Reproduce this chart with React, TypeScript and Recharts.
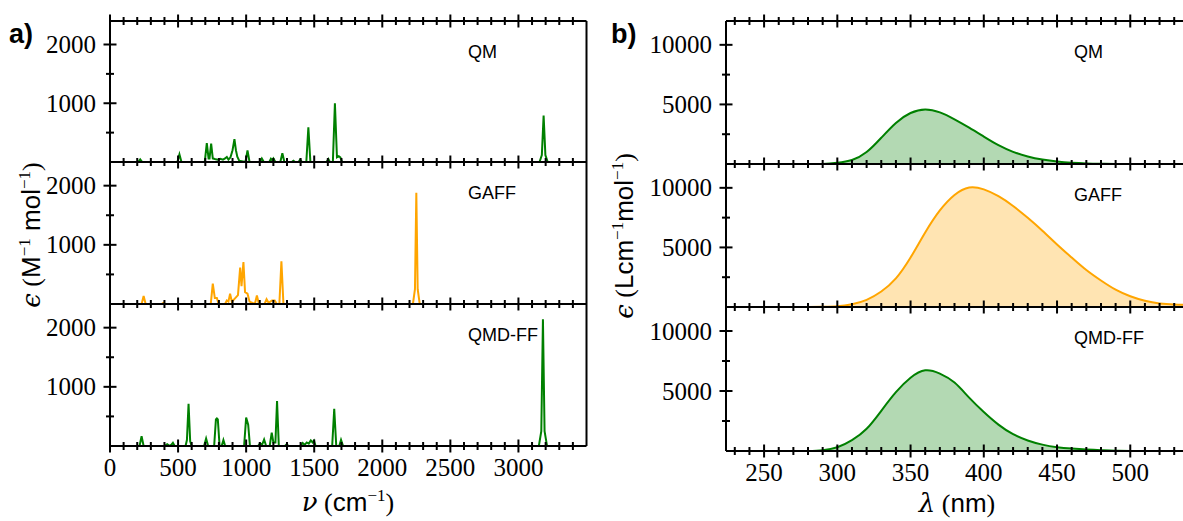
import { Area, AreaChart, Line, LineChart, ReferenceLine, XAxis, YAxis } from 'recharts';

const SERIF = '"Liberation Serif", "DejaVu Serif", serif';
const SANS = '"Liberation Sans", "DejaVu Sans", sans-serif';
const MATH = '"DejaVu Serif", serif';

const green = '#008000';
const orange = '#ffa500';
const greenFill = '#b3d9b3';
const orangeFill = '#ffe4b2';

// IR spectra, [wavenumber, epsilon]
const irQm = [
  [150, 0], [207, 0], [222, 45], [237, 0],
  [495, 0], [510, 130], [525, 0],
  [696, 0], [711, 320], [724, 60], [731, 60], [743, 315], [755, 60], [770, 50], [790, 40], [810, 55], [830, 40],
  [845, 60], [858, 85], [870, 40], [885, 80], [900, 200], [914, 390], [925, 200], [935, 90], [950, 20],
  [995, 0], [1010, 195], [1025, 0],
  [1100, 0], [1115, 60], [1130, 0], [1170, 0], [1182, 55], [1192, 30], [1200, 60], [1215, 0],
  [1251, 0], [1266, 150], [1281, 0],
  [1335, 0], [1347, 20], [1360, 0], [1385, 0], [1396, 40], [1410, 0],
  [1442, 0], [1457, 590], [1472, 0],
  [1590, 0], [1604, 50], [1615, 0], [1637, 0], [1652, 1000], [1667, 80], [1680, 100], [1692, 80], [1705, 0],
  [3155, 0], [3172, 120], [3185, 790], [3198, 120], [3215, 0], [3400, 0],
];

const irGaff = [
  [150, 0], [232, 0], [247, 135], [262, 0], [380, 0], [393, 20], [405, 0],
  [740, 0], [755, 345], [770, 100], [785, 100], [798, 0],
  [845, 0], [858, 60], [870, 40], [882, 175], [895, 40], [920, 100], [940, 150], [956, 615], [966, 300],
  [980, 710], [992, 200], [1010, 175], [1025, 40],
  [1064, 0], [1079, 145], [1094, 0], [1135, 0], [1150, 80], [1165, 20], [1190, 60], [1210, 60], [1225, 0],
  [1244, 0], [1259, 720], [1274, 0],
  [2225, 0], [2240, 250], [2250, 1880], [2260, 250], [2275, 0], [2450, 0],
];

const irQmdff = [
  [150, 0], [217, 0], [232, 165], [247, 0],
  [400, 0], [420, 30], [440, 0], [450, 20], [462, 55], [475, 0],
  [555, 0], [565, 100], [577, 715], [589, 80], [600, 0],
  [691, 0], [706, 125], [721, 0],
  [765, 0], [778, 450], [785, 465], [792, 450], [805, 0], [820, 0], [833, 100], [846, 0],
  [985, 0], [1000, 480], [1015, 360], [1028, 0],
  [1087, 0], [1102, 45], [1117, 20], [1132, 110], [1147, 0],
  [1173, 0], [1188, 225], [1200, 60], [1215, 60], [1227, 760], [1240, 0],
  [1285, 0], [1298, 30], [1310, 0],
  [1400, 0], [1415, 50], [1430, 20], [1445, 60], [1460, 40], [1475, 95], [1488, 60], [1498, 90], [1510, 0],
  [1632, 0], [1647, 630], [1662, 0], [1684, 0], [1697, 105], [1712, 0],
  [3150, 0], [3168, 250], [3180, 2140], [3192, 250], [3210, 0], [3400, 0],
];

// UV-vis spectra, wavelength (nm) and epsilon
const uvQmX = [224, 240, 260, 280, 290, 300, 310, 320, 330, 340, 350, 360, 370, 380, 390, 400, 410, 420, 430, 440, 450, 460, 470, 480, 490, 500, 520, 536];
const uvQmY = [0, 0, 0, 0, 10, 100, 330, 1000, 2200, 3450, 4280, 4580, 4330, 3750, 3050, 2300, 1580, 1020, 630, 370, 200, 100, 45, 20, 5, 0, 0, 0];

const uvGaffX = [224, 240, 260, 280, 290, 300, 310, 320, 330, 340, 350, 360, 370, 380, 390, 400, 410, 420, 430, 440, 450, 460, 470, 480, 490, 500, 510, 520, 530, 536];
const uvGaffY = [0, 0, 0, 0, 15, 60, 230, 600, 1300, 2400, 4150, 6250, 8100, 9400, 10030, 9870, 9300, 8480, 7480, 6400, 5250, 4150, 3100, 2220, 1450, 900, 520, 300, 210, 190];

const uvQmdffX = [224, 240, 260, 280, 290, 300, 310, 320, 330, 340, 350, 360, 370, 380, 390, 400, 410, 420, 430, 440, 450, 460, 470, 480, 490, 500, 510, 520, 536];
const uvQmdffY = [0, 0, 0, 10, 70, 310, 900, 1850, 3350, 4900, 6100, 6720, 6450, 5700, 4450, 3250, 2200, 1400, 880, 530, 320, 200, 115, 60, 30, 10, 0, 0, 0];

// ticks
const irXTicks = [0, 100, 200, 300, 400, 500, 600, 700, 800, 900, 1000, 1100, 1200, 1300, 1400, 1500, 1600, 1700,
  1800, 1900, 2000, 2100, 2200, 2300, 2400, 2500, 2600, 2700, 2800, 2900, 3000, 3100, 3200, 3300, 3400];
const irXMajor = [0, 500, 1000, 1500, 2000, 2500, 3000];
const irYTicks = [500, 1000, 1500, 2000];
const irYMajor = [1000, 2000];

const uvXTicks = [230, 240, 250, 260, 270, 280, 290, 300, 310, 320, 330, 340, 350, 360, 370, 380, 390, 400, 410,
  420, 430, 440, 450, 460, 470, 480, 490, 500, 510, 520, 530];
const uvXMajor = [250, 300, 350, 400, 450, 500];
const uvYTicks = [2500, 5000, 7500, 10000];
const uvYMajor = [5000, 10000];

const pairs = (pts: number[][]) => pts.map(([x, y]) => ({ x, y }));
const zipRows = (xs: number[], ys: number[]) => xs.map((x, i) => ({ x, y: ys[i] }));

// ticks cross the spine (in and out); tickSize/tickMargin are 0 so p.x / p.y sit on the spine
const xTick = (major: number[], labels: boolean) => (p: any) => {
  const isMajor = major.includes(p.payload.value);
  const len = isMajor ? 6.5 : 4;
  return (
    <g>
      <line x1={p.x} x2={p.x} y1={p.y - len} y2={p.y + len} stroke="#000" strokeWidth={2} />
      {labels && isMajor ? (
        <text x={p.x} y={p.y + 30} textAnchor="middle" fontFamily={SERIF} fontSize={25} fill="#000">
          {p.payload.value}
        </text>
      ) : null}
    </g>
  );
};

const yTick = (major: number[]) => (p: any) => {
  const isMajor = major.includes(p.payload.value);
  const len = isMajor ? 6.5 : 4;
  return (
    <g>
      <line x1={p.x - len} x2={p.x + len} y1={p.y} y2={p.y} stroke="#000" strokeWidth={2} />
      {isMajor ? (
        <text x={p.x - 14} y={p.y + 8.5} textAnchor="end" fontFamily={SERIF} fontSize={25} fill="#000">
          {p.payload.value}
        </text>
      ) : null}
    </g>
  );
};

const spine = { stroke: '#000', strokeWidth: 2 };

interface SubProps {
  rows: { x: number; y: number }[];
  color: string;
  fill?: string;
  top: number;
  height: number;
  first?: boolean;
  last?: boolean;
}

function IrPlot({ rows, color, top, height, first, last }: SubProps) {
  const below = last ? 521 - (top + height) : 20;
  return (
    <div style={{ position: 'absolute', left: 0, top: top - 20 }}>
      <LineChart width={600} height={20 + height + below} data={rows}
        margin={{ top: first ? 0 : 20, right: 13.5, bottom: 0, left: 0 }}>
        <XAxis dataKey="x" type="number" domain={[0, 3500]} ticks={irXTicks} interval={0} allowDataOverflow
          height={below} tickSize={0} tickMargin={0} tickLine={false} axisLine={spine}
          tick={xTick(irXMajor, !!last)} />
        {first ? (
          <XAxis xAxisId="top" dataKey="x" orientation="top" type="number" domain={[0, 3500]} ticks={irXTicks}
            interval={0} allowDataOverflow height={20} tickSize={0} tickMargin={0} tickLine={false}
            axisLine={spine} tick={xTick(irXMajor, false)} />
        ) : null}
        <YAxis type="number" domain={[0, 2400]} ticks={irYTicks} interval={0} allowDataOverflow width={110}
          tickSize={0} tickMargin={0} tickLine={false} axisLine={spine} tick={yTick(irYMajor)} />
        <ReferenceLine x={3500} stroke="#000" strokeWidth={2} />
        {first ? (
          <Line xAxisId="top" dataKey="y" stroke="none" dot={false} activeDot={false} isAnimationActive={false} />
        ) : null}
        <Line dataKey="y" type="linear" stroke={color} strokeWidth={2} dot={false} isAnimationActive={false} />
      </LineChart>
    </div>
  );
}

function UvPlot({ rows, color, fill, top, height, first, last }: SubProps) {
  const below = last ? 521 - (top + height) : 20;
  return (
    <div style={{ position: 'absolute', left: 600, top: top - 20 }}>
      <AreaChart width={583} height={20 + height + below} data={rows}
        margin={{ top: first ? 0 : 20, right: 0, bottom: 0, left: 0 }}>
        <XAxis dataKey="x" type="number" domain={[224, 536]} ticks={uvXTicks} interval={0} allowDataOverflow
          height={below} tickSize={0} tickMargin={0} tickLine={false} axisLine={spine}
          tick={xTick(uvXMajor, !!last)} />
        {first ? (
          <XAxis xAxisId="top" dataKey="x" orientation="top" type="number" domain={[224, 536]} ticks={uvXTicks}
            interval={0} allowDataOverflow height={20} tickSize={0} tickMargin={0} tickLine={false}
            axisLine={spine} tick={xTick(uvXMajor, false)} />
        ) : null}
        <YAxis type="number" domain={[0, 12000]} ticks={uvYTicks} interval={0} allowDataOverflow width={126}
          tickSize={0} tickMargin={0} tickLine={false} axisLine={spine} tick={yTick(uvYMajor)} />
        {first ? (
          <Area xAxisId="top" dataKey="y" stroke="none" fill="none" dot={false} activeDot={false}
            isAnimationActive={false} />
        ) : null}
        <Area dataKey="y" type="natural" stroke={color} strokeWidth={2} fill={fill} fillOpacity={1}
          isAnimationActive={false} />
      </AreaChart>
    </div>
  );
}

const sup = { fontFamily: SERIF, fontSize: 17 };

export default function App() {
  return (
    <div style={{ position: 'absolute', left: 0, top: 0, width: 1183, height: 521, background: '#fff', overflow: 'hidden' }}>
      <IrPlot rows={pairs(irQm)} color={green} top={21} height={141} first />
      <IrPlot rows={pairs(irGaff)} color={orange} top={162} height={142} />
      <IrPlot rows={pairs(irQmdff)} color={green} top={304} height={142} last />

      <UvPlot rows={zipRows(uvQmX, uvQmY)} color={green} fill={greenFill} top={21} height={143} first />
      <UvPlot rows={zipRows(uvGaffX, uvGaffY)} color={orange} fill={orangeFill} top={164} height={143} />
      <UvPlot rows={zipRows(uvQmdffX, uvQmdffY)} color={green} fill={greenFill} top={307} height={144} last />

      <svg width={1183} height={521} style={{ position: 'absolute', left: 0, top: 0, pointerEvents: 'none' }}>
        <text x={9} y={43} fontFamily={SANS} fontWeight="bold" fontSize={27}>a)</text>
        <text x={611} y={43} fontFamily={SANS} fontWeight="bold" fontSize={27}>b)</text>

        <g fontFamily={SANS} fontSize={18} fill="#000">
          <text x={468} y={58}>QM</text>
          <text x={468} y={199}>GAFF</text>
          <text x={468} y={341}>QMD-FF</text>
          <text x={1074} y={58}>QM</text>
          <text x={1074} y={201}>GAFF</text>
          <text x={1074} y={344}>QMD-FF</text>
        </g>

        <text x={348} y={511} textAnchor="middle" fontSize={26} fill="#000">
          <tspan fontFamily={MATH} fontStyle="italic">ν</tspan>
          <tspan fontFamily={SERIF}> (</tspan>
          <tspan fontFamily={SANS}>cm</tspan>
          <tspan dy={-10} {...sup}>−1</tspan>
          <tspan dy={10} fontFamily={SERIF}>)</tspan>
        </text>
        <text x={957} y={512} textAnchor="middle" fontSize={26} fill="#000">
          <tspan fontFamily={MATH} fontStyle="italic">λ</tspan>
          <tspan fontFamily={SERIF}> (</tspan>
          <tspan fontFamily={SANS}>nm</tspan>
          <tspan fontFamily={SERIF}>)</tspan>
        </text>

        <text x={40} y={235} transform="rotate(-90 40 235)" textAnchor="middle" fontSize={26} fill="#000">
          <tspan fontFamily={MATH} fontStyle="italic">ϵ</tspan>
          <tspan fontFamily={SERIF}> (</tspan>
          <tspan fontFamily={SANS}>M</tspan>
          <tspan dy={-10} {...sup}>−1</tspan>
          <tspan dy={10} fontFamily={SANS}> mol</tspan>
          <tspan dy={-10} {...sup}>−1</tspan>
          <tspan dy={10} fontFamily={SERIF}>)</tspan>
        </text>
        <text x={633} y={236} transform="rotate(-90 633 236)" textAnchor="middle" fontSize={26} fill="#000">
          <tspan fontFamily={MATH} fontStyle="italic">ϵ</tspan>
          <tspan fontFamily={SERIF}> (</tspan>
          <tspan fontFamily={SANS}>Lcm</tspan>
          <tspan dy={-10} {...sup}>−1</tspan>
          <tspan dy={10} fontFamily={SANS}>mol</tspan>
          <tspan dy={-10} {...sup}>−1</tspan>
          <tspan dy={10} fontFamily={SERIF}>)</tspan>
        </text>
      </svg>
    </div>
  );
}
